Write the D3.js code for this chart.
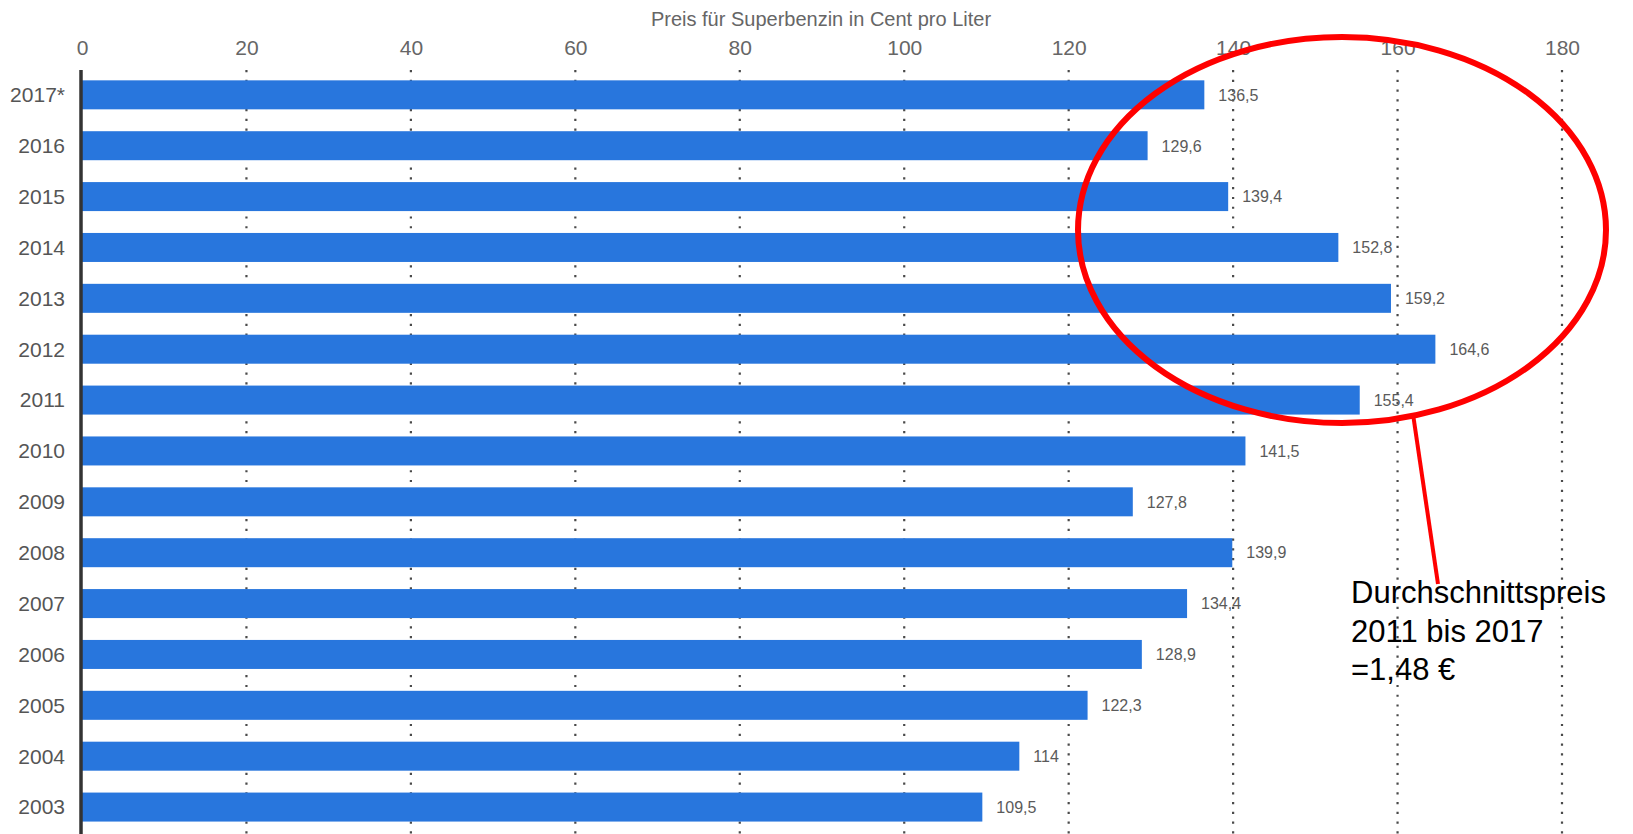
<!DOCTYPE html>
<html>
<head>
<meta charset="utf-8">
<script src="https://cdn.jsdelivr.net/npm/d3@7"></script>
<style>
  html, body { margin: 0; padding: 0; background: #fff; }
  svg { display: block; font-family: "Liberation Sans", Arial, sans-serif; }
</style>
</head>
<body>
<svg id="chart" width="1633" height="834"></svg>
<script>
const years = ["2017*", "2016", "2015", "2014", "2013", "2012", "2011", "2010", "2009", "2008", "2007", "2006", "2005", "2004", "2003"];
const prices = [136.5, 129.6, 139.4, 152.8, 159.2, 164.6, 155.4, 141.5, 127.8, 139.9, 134.4, 128.9, 122.3, 114, 109.5];
const tickValues = [0, 20, 40, 60, 80, 100, 120, 140, 160, 180];
const axisTitle = "Preis für Superbenzin in Cent pro Liter";
const noteLines = ["Durchschnittspreis", "2011 bis 2017", "=1,48 €"];

const svg = d3.select("#chart");
const x = d3.scaleLinear().domain([0, 180]).range([82, 1562]);
const y = d3.scaleBand().domain(years).range([69.4, 832.5]).paddingInner(0.43).paddingOuter(0.215);
const fmt = v => String(v).replace(".", ",");

// axis title
svg.append("text").attr("x", 821).attr("y", 26).attr("text-anchor", "middle")
  .attr("font-size", 20).attr("fill", "#666").text(axisTitle);

// top axis tick labels
const xAxis = d3.axisTop(x).tickValues(tickValues).tickSize(0).tickPadding(0).tickFormat(d => d);
const gx = svg.append("g").attr("transform", "translate(0,55)").call(xAxis);
gx.select(".domain").remove();
gx.selectAll("text").attr("font-size", 21).attr("fill", "#666")
  .attr("font-family", "Liberation Sans, Arial, sans-serif").attr("dy", 0);

// dotted gridlines
svg.append("g").selectAll("line").data(tickValues.filter(d => d > 0)).join("line")
  .attr("x1", d => x(d)).attr("x2", d => x(d)).attr("y1", 70).attr("y2", 834)
  .attr("stroke", "#4a4a4a").attr("stroke-width", 2.2).attr("stroke-dasharray", "2.2,7.56");

// bars
svg.append("g").selectAll("rect").data(prices).join("rect")
  .attr("x", x(0)).attr("y", (d, i) => y(years[i]))
  .attr("width", d => x(d) - x(0)).attr("height", y.bandwidth())
  .attr("fill", "#2876dd");

// value labels
svg.append("g").selectAll("text").data(prices).join("text")
  .attr("x", d => x(d) + 14).attr("y", (d, i) => y(years[i]) + y.bandwidth() / 2 + 5.8)
  .attr("font-size", 16).attr("fill", "#5a5a5a").text(d => fmt(d));

// y labels
const yAxis = d3.axisLeft(y).tickSize(0).tickPadding(0);
const gy = svg.append("g").attr("transform", "translate(65,0)").call(yAxis);
gy.select(".domain").remove();
gy.selectAll("text").attr("font-size", 21).attr("fill", "#555")
  .attr("font-family", "Liberation Sans, Arial, sans-serif").attr("dy", "0.35em");

// vertical axis line
svg.append("line").attr("x1", 81).attr("x2", 81).attr("y1", 70).attr("y2", 834)
  .attr("stroke", "#333").attr("stroke-width", 3.5);

// annotation
svg.append("ellipse").attr("cx", 1342).attr("cy", 230).attr("rx", 264).attr("ry", 193)
  .attr("fill", "none").attr("stroke", "#ff0000").attr("stroke-width", 6);
svg.append("line").attr("x1", 1413).attr("y1", 414).attr("x2", 1438).attr("y2", 584)
  .attr("stroke", "#ff0000").attr("stroke-width", 4);
svg.append("g").selectAll("text").data(noteLines).join("text")
  .attr("x", 1351).attr("y", (d, i) => 603 + i * 38.5)
  .attr("font-size", 31).attr("fill", "#000").text(d => d);
</script>
</body>
</html>
